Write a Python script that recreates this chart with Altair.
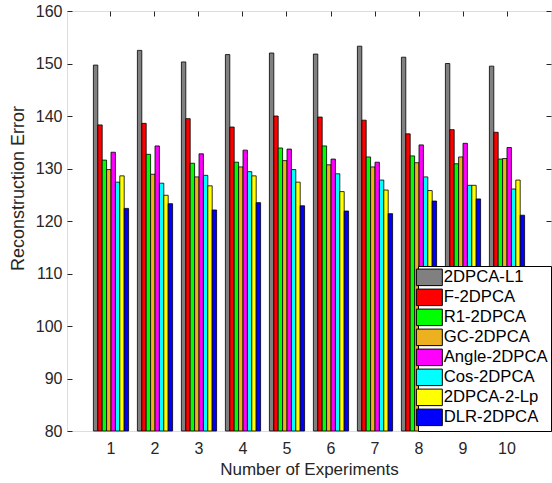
import altair as alt
import pandas as pd

experiments = [str(i) for i in range(1, 11)]
methods = ["2DPCA-L1", "F-2DPCA", "R1-2DPCA", "GC-2DPCA",
           "Angle-2DPCA", "Cos-2DPCA", "2DPCA-2-Lp", "DLR-2DPCA"]
colors = ["#808080", "#ff0000", "#00ff00", "#edb120",
          "#ff00ff", "#00ffff", "#ffff00", "#0000ff"]

l1_2dpca = [149.7, 152.5, 150.3, 151.7, 152.0, 151.8, 153.3, 151.2, 150.0, 149.5]
f_2dpca = [138.3, 138.6, 139.5, 137.9, 140.0, 139.8, 139.2, 136.6, 137.4, 136.9]
r1_2dpca = [131.6, 132.7, 131.0, 131.2, 133.9, 134.3, 132.2, 132.4, 130.9, 131.8]
gc_2dpca = [129.8, 128.9, 128.4, 130.3, 131.5, 130.7, 130.3, 131.1, 132.2, 131.9]
angle_2dpca = [133.1, 134.3, 132.8, 133.5, 133.7, 131.8, 131.2, 134.5, 134.8, 134.0]
cos_2dpca = [127.4, 127.2, 128.7, 129.4, 129.8, 129.0, 127.8, 128.4, 126.8, 126.1]
lp_2dpca = [128.6, 124.9, 126.7, 128.6, 127.4, 125.6, 125.9, 125.8, 126.8, 127.8]
dlr_2dpca = [122.4, 123.3, 122.1, 123.5, 122.9, 121.9, 121.4, 123.8, 124.2, 121.1]

series = [l1_2dpca, f_2dpca, r1_2dpca, gc_2dpca, angle_2dpca, cos_2dpca, lp_2dpca, dlr_2dpca]
rows = []
for m, vals in zip(methods, series):
    for e, v in zip(experiments, vals):
        rows.append({"exp": e, "method": m, "value": v})
df = pd.DataFrame(rows)

FONT = "Liberation Sans"
TXT = "#262626"
W, H = 484, 420

xscale = alt.Scale(paddingInner=0.2, paddingOuter=0.6)
yscale = alt.Scale(domain=[80, 160], zero=False, nice=False)

bars = alt.Chart(df).mark_bar(stroke="black", strokeWidth=0.8, opacity=1).encode(
    x=alt.X("exp:N", sort=experiments, scale=xscale,
            axis=alt.Axis(title="Number of Experiments", labelAngle=0, tickSize=0,
                          domain=False, labelPadding=9, titlePadding=5,
                          labelFontSize=16, titleFontSize=17, labelFont=FONT,
                          titleFont=FONT, labelColor=TXT, titleColor=TXT,
                          titleFontWeight="normal", grid=False)),
    xOffset=alt.XOffset("method:N", sort=methods,
                        scale=alt.Scale(paddingInner=0, paddingOuter=0)),
    y=alt.Y("value:Q", scale=yscale,
            axis=alt.Axis(title="Reconstruction Error", values=list(range(80, 161, 10)),
                          tickSize=0, domain=False, labelPadding=5, titlePadding=8,
                          titleY=177,
                          labelFontSize=16, titleFontSize=18, labelFont=FONT,
                          titleFont=FONT, labelColor=TXT, titleColor=TXT,
                          titleFontWeight="normal", grid=False)),
    y2=alt.datum(80),
    color=alt.Color("method:N", sort=methods,
                    scale=alt.Scale(domain=methods, range=colors),
                    legend=alt.Legend(title=None, orient="bottom-right", offset=0,
                                      fillColor="white", strokeColor="black",
                                      padding=3, rowPadding=-1,
                                      labelFontSize=16.7, labelFont=FONT, labelColor="black",
                                      symbolType="M-1.73,-1.1H1.73V1.1H-1.73Z", symbolSize=225,
                                      symbolStrokeColor="black", symbolStrokeWidth=1,
                                      symbolOpacity=1, labelOffset=6)),
)

tick_axes1 = alt.Chart(df).mark_point(opacity=0).encode(
    x=alt.X("exp:N", sort=experiments, scale=xscale,
            axis=alt.Axis(orient="bottom", offset=-H, labels=False, domain=False,
                          tickSize=5, tickColor=TXT, title=None, grid=False)),
    y=alt.Y("value:Q", scale=yscale,
            axis=alt.Axis(orient="right", offset=-W, labels=False, domain=False,
                          values=list(range(80, 161, 10)),
                          tickSize=5, tickColor=TXT, title=None, grid=False)),
)

tick_axes2 = alt.Chart(df).mark_point(opacity=0).encode(
    x=alt.X("exp:N", sort=experiments, scale=xscale, axis=None),
    y=alt.Y("value:Q", scale=yscale,
            axis=alt.Axis(orient="left", offset=-W, labels=False, domain=False,
                          values=list(range(80, 161, 10)),
                          tickSize=5, tickColor=TXT, title=None, grid=False)),
)

chart = alt.layer(bars, tick_axes1, tick_axes2).resolve_axis(
    x="independent", y="independent"
).properties(
    width=W, height=H,
    padding={"left": 67, "top": 11, "right": 1, "bottom": 52},
    autosize=alt.AutoSizeParams(type="none"),
).configure_view(stroke=TXT, strokeWidth=1).configure(background="white")

chart.save("out.html", embed_options={"renderer": "svg", "actions": False})
